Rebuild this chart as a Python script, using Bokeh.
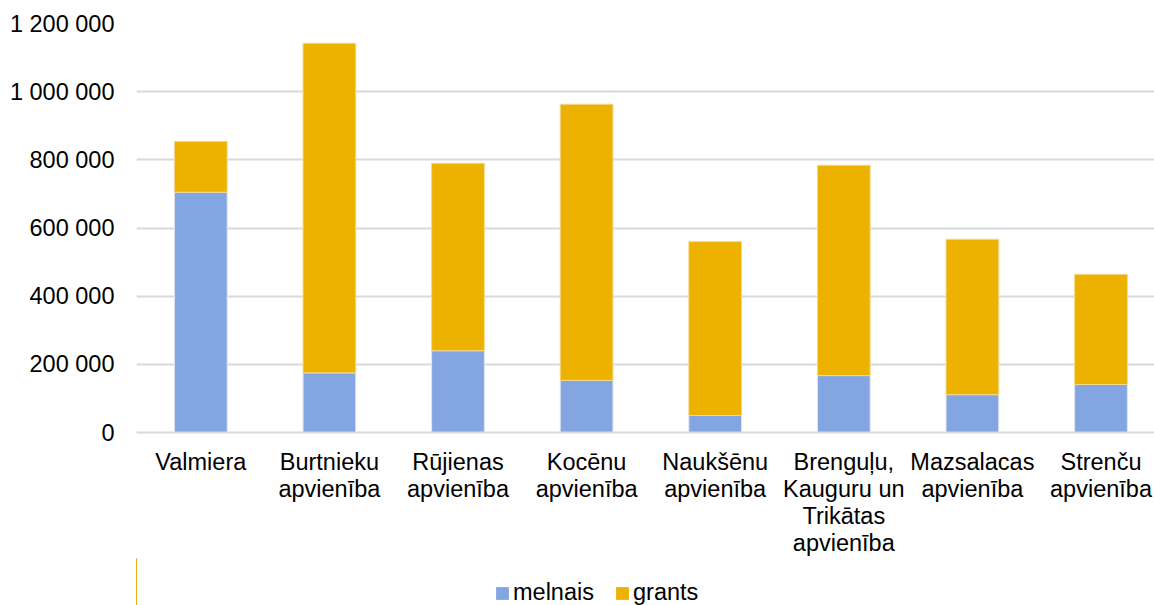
from bokeh.plotting import figure
from bokeh.layouts import column
from bokeh.models import ColumnDataSource, Range1d, FixedTicker, Legend, LegendItem
from bokeh.embed import file_html
from bokeh.resources import INLINE

categories = ["Valmiera", "Burtnieku\napvienība", "Rūjienas\napvienība", "Kocēnu\napvienība",
              "Naukšēnu\napvienība", "Brenguļu,\nKauguru un\nTrikātas\napvienība",
              "Mazsalacas\napvienība", "Strenču\napvienība"]
melnais = [705000, 175000, 240000, 153000, 50000, 167000, 111000, 141000]
grants = [149000, 967000, 550000, 810000, 510000, 617000, 456000, 323000]
y_ticks = [0, 200000, 400000, 600000, 800000, 1000000, 1200000]
y_tick_labels = ["0", "200 000", "400 000", "600 000", "800 000", "1 000 000", "1 200 000"]
series_names = ["melnais", "grants"]
series_colors = ["#83A5E2", "#EDB100"]

x = list(range(len(categories)))
top_m = melnais
top_g = [m + g for m, g in zip(melnais, grants)]
src = ColumnDataSource(dict(x=x, m=top_m, g=top_g, zero=[0] * len(x)))

FONT = "Liberation Sans"

p = figure(frame_width=1018, frame_height=409, output_backend="svg", toolbar_location=None,
           x_range=Range1d(-0.5, 7.416), y_range=Range1d(0, 1200000),
           min_border_left=136, min_border_right=0, min_border_top=23, min_border_bottom=0)
p.outline_line_color = None

p.vbar(x="x", bottom="zero", top="m", width=0.41, source=src,
       fill_color=series_colors[0], line_color="#DDE6F5", line_width=1)
p.vbar(x="x", bottom="m", top="g", width=0.41, source=src,
       fill_color=series_colors[1], line_color="#F5D98A", line_width=1)

p.xgrid.grid_line_color = None
p.ygrid.grid_line_color = "#D9D9D9"
p.ygrid.grid_line_width = 2
p.ygrid.ticker = FixedTicker(ticks=y_ticks)

p.yaxis.ticker = FixedTicker(ticks=y_ticks)
p.yaxis.major_label_overrides = {t: l for t, l in zip(y_ticks, y_tick_labels)}
p.yaxis.axis_line_color = None
p.yaxis.major_tick_line_color = None
p.yaxis.minor_tick_line_color = None
p.yaxis.major_tick_out = 0
p.yaxis.minor_tick_out = 0
p.yaxis.major_label_text_font = FONT
p.yaxis.major_label_text_font_size = "23.5px"
p.yaxis.major_label_text_color = "#000000"
p.yaxis.major_label_standoff = 22

p.xaxis.ticker = FixedTicker(ticks=x)
p.xaxis.major_label_overrides = {i: c for i, c in zip(x, categories)}
p.xaxis.axis_line_color = "#D9D9D9"
p.xaxis.axis_line_width = 2
p.xaxis.major_tick_line_color = None
p.xaxis.minor_tick_line_color = None
p.xaxis.major_tick_out = 0
p.xaxis.minor_tick_out = 0
p.xaxis.major_label_text_font = FONT
p.xaxis.major_label_text_font_size = "23.5px"
p.xaxis.major_label_text_color = "#000000"
p.xaxis.major_label_text_line_height = 1.04
p.xaxis.major_label_standoff = 16

# legend strip below the chart; its bars lie outside its visible range,
# only the legend glyphs and labels show
lp = figure(width=1154, height=60, output_backend="svg", toolbar_location=None,
            x_range=Range1d(100, 101), y_range=Range1d(0, 1), min_border=0)
lp.outline_line_color = None
lp.axis.visible = False
lp.grid.visible = False
items = []
for name, col, key in zip(series_names, series_colors, ["m", "g"]):
    r = lp.vbar(x="x", top=key, width=0.41, source=src, fill_color=col, line_color=None)
    items.append(LegendItem(label=name, renderers=[r]))

legend = Legend(items=items, orientation="horizontal", location=(358, 12),
                label_text_font=FONT, label_text_font_size="23.5px", label_text_color="#000000",
                glyph_width=16, glyph_height=16, label_standoff=3, spacing=20,
                padding=0, margin=0, border_line_color=None, background_fill_alpha=0)
lp.add_layout(legend, "center")

layout = column(p, lp, spacing=0)
open("out.html", "w").write(file_html(layout, INLINE))
